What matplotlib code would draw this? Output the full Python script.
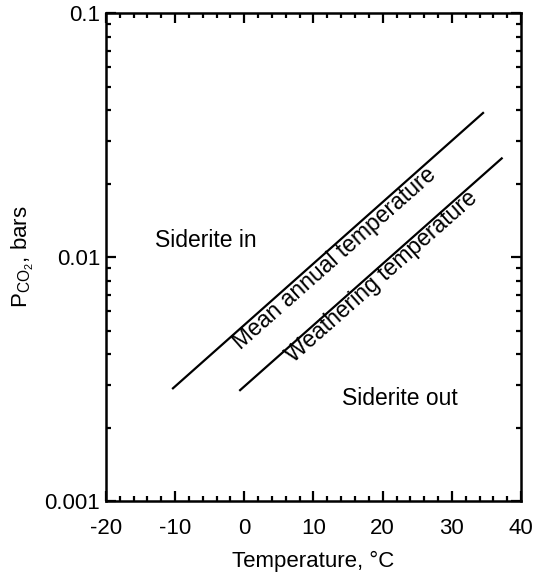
import matplotlib
matplotlib.use("Agg")
from matplotlib import pyplot as plt
from matplotlib.ticker import FixedLocator, MultipleLocator, LogLocator, NullFormatter
import numpy as np

plt.rcParams['font.family'] = ['Liberation Sans', 'DejaVu Sans']
plt.rcParams['mathtext.fontset'] = 'custom'
plt.rcParams['mathtext.rm'] = 'Liberation Sans'
plt.rcParams['mathtext.it'] = 'Liberation Sans'

# end points (temperature in C, PCO2 in bars)
mean_t = [-10.3, 34.5]
mean_p = [0.0029, 0.039]
weath_t = [-0.6, 37.2]
weath_p = [0.00285, 0.0254]

xticks = [-20, -10, 0, 10, 20, 30, 40]
yticks = [0.001, 0.01, 0.1]
ylabels = ['0.001', '0.01', '0.1']

fig = plt.figure(figsize=(5.4, 5.74), dpi=100)
ax = fig.add_axes([0.196, 0.127, 0.769, 0.850])

ax.plot(mean_t, mean_p, color='black', lw=1.6)
ax.plot(weath_t, weath_p, color='black', lw=1.6)

ax.set_yscale('log')
ax.set_xlim(-20, 40)
ax.set_ylim(0.001, 0.1)
ax.xaxis.set_major_locator(FixedLocator(xticks))
ax.xaxis.set_minor_locator(MultipleLocator(2))
ax.set_xticklabels([str(t) for t in xticks])
ax.yaxis.set_major_locator(FixedLocator(yticks))
ax.yaxis.set_minor_locator(LogLocator(base=10, subs=np.arange(2, 10)))
ax.yaxis.set_minor_formatter(NullFormatter())
ax.set_yticklabels(ylabels)

ax.tick_params(which='both', direction='in', top=True, right=True,
               labelsize=16, width=1.6)
ax.tick_params(axis='x', pad=12)
ax.tick_params(axis='y', pad=4)
ax.tick_params(which='major', length=7)
ax.tick_params(which='minor', length=3.5)
for s in ax.spines.values():
    s.set_linewidth(1.8)

ax.set_xlabel('Temperature, \u00b0C', fontsize=16, labelpad=9)
ax.set_ylabel(r'P$_{\mathrm{CO}_2}$, bars', fontsize=16, labelpad=6)

ax.text(-12.9, 0.0117, 'Siderite in', fontsize=16.5, ha='left', va='center')
ax.text(14.1, 0.00264, 'Siderite out', fontsize=16.5, ha='left', va='center')
ax.text(13.1, 0.0099, 'Mean annual temperature', fontsize=16.5,
        rotation=41.5, rotation_mode='anchor', ha='center', va='center')
ax.text(19.8, 0.0083, 'Weathering temperature', fontsize=16.5,
        rotation=41.5, rotation_mode='anchor', ha='center', va='center')

fig.savefig('out.png', dpi=100)
